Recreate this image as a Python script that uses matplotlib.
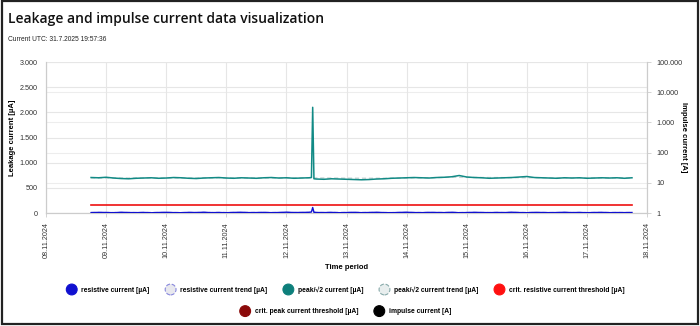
import numpy as np
import pandas as pd
import matplotlib
matplotlib.use("Agg")
import matplotlib.pyplot as plt
import matplotlib.dates as mdates
import matplotlib.patches as mpatches
from matplotlib.legend_handler import HandlerPatch
from matplotlib.ticker import FuncFormatter, FixedLocator

plt.rcParams['font.family'] = ['Liberation Sans', 'DejaVu Sans']

# Measurement series, hours counted from 08.11.2024 18:00
hours = [0, 3, 6, 9, 12, 15, 18, 21, 24, 27, 30, 33, 36, 39, 42, 45, 48, 51, 54, 57,
         60, 63, 66, 69, 72, 75, 78, 81, 84, 87, 88, 88.5, 89, 90, 93, 96, 99, 102, 105,
         108, 111, 114, 117, 120, 123, 126, 129, 132, 135, 138, 141, 144, 147, 150, 153,
         156, 159, 162, 165, 168, 171, 174, 177, 180, 183, 186, 189, 192, 195, 198, 201,
         204, 207, 210, 213, 216]
peak_current = [705, 700, 710, 695, 685, 680, 690, 695, 700, 690, 695, 705, 700, 690,
                685, 695, 700, 705, 695, 690, 700, 695, 690, 700, 705, 695, 700, 690,
                695, 700, 705, 2100, 680, 675, 670, 680, 675, 670, 665, 660, 665, 675,
                680, 690, 695, 700, 705, 700, 695, 705, 710, 720, 745, 715, 705, 700,
                690, 695, 700, 705, 715, 725, 705, 700, 695, 690, 700, 695, 700, 690,
                695, 700, 695, 700, 690, 700]
resistive_current = [8, 12, 10, 6, 14, 9, 7, 11, 5, 10, 13, 8, 6, 12, 9, 15, 7, 10, 6, 11,
                     14, 8, 9, 12, 7, 10, 16, 9, 11, 14, 20, 110, 15, 10, 8, 12, 6, 9,
                     13, 7, 10, 14, 8, 6, 11, 15, 9, 7, 12, 10, 8, 14, 6, 9, 13, 10,
                     7, 11, 8, 15, 9, 6, 12, 10, 7, 9, 14, 8, 11, 6, 10, 12, 7, 9, 8, 10]

trend_hours = [0, 12, 24, 36, 48, 60, 72, 84, 96, 108, 120, 132, 144, 156, 168, 180,
               192, 204, 216]
peak_trend = [698, 695, 697, 696, 698, 697, 696, 698, 695, 690, 692, 698, 710, 705,
              702, 700, 698, 697, 698]
resistive_trend = [9, 9, 10, 9, 10, 10, 9, 10, 11, 10, 9, 10, 10, 9, 10, 10, 9, 10, 9]

threshold_hours = [0, 216]
resistive_threshold = [150, 150]
peak_threshold_hours = []
peak_threshold = []
impulse_hours = []
impulse_current = []

start = pd.Timestamp('2024-11-08 18:00')
def to_time(h):
    return start + pd.to_timedelta(h, unit='h')

t = to_time(hours)
tt = to_time(trend_hours)
tth = to_time(threshold_hours)

fig = plt.figure(figsize=(7, 3.26), dpi=100)
ax = fig.add_axes([0.0657, 0.3466, 0.8586, 0.4632])
ax2 = ax.twinx()

c_blue = '#1010d0'
c_teal = '#118a85'
c_red = '#ee1111'

ax.plot(tt, resistive_trend, color='#a9a9e8', lw=1.0, ls=(0, (3, 2)), zorder=3)
ax.plot(t, resistive_current, color=c_blue, lw=1.0, zorder=4)
ax.plot(tt, peak_trend, color='#c8d4d4', lw=1.0, ls=(0, (3, 2)), zorder=3)
ax.plot(t, peak_current, color=c_teal, lw=1.1, zorder=4)
ax.plot(tth, resistive_threshold, color=c_red, lw=1.2, zorder=4)
ax.plot(to_time(peak_threshold_hours), peak_threshold, color='#8b0000', lw=1.2)
ax2.plot(to_time(impulse_hours), impulse_current, color='black', lw=1.0)

ax.set_xlim(pd.Timestamp('2024-11-08'), pd.Timestamp('2024-11-18'))
ax.set_ylim(0, 3000)
ax.yaxis.set_major_locator(FixedLocator([0, 500, 1000, 1500, 2000, 2500, 3000]))
thousands = FuncFormatter(lambda v, p: f"{int(round(v)):,}".replace(',', '.'))
ax.yaxis.set_major_formatter(thousands)

ax2.set_yscale('log')
ax2.set_ylim(1, 100000)
ax2.yaxis.set_major_locator(FixedLocator([1, 10, 100, 1000, 10000, 100000]))
ax2.yaxis.set_minor_locator(FixedLocator([]))
ax2.yaxis.set_major_formatter(thousands)

ax.xaxis.set_major_locator(mdates.DayLocator())
ax.xaxis.set_major_formatter(mdates.DateFormatter('%d.%m.%Y'))
for lbl in ax.get_xticklabels():
    lbl.set_rotation(90)

ax.grid(True, color='#e6e6e6', lw=0.8)
ax2.grid(True, axis='y', color='#ededed', lw=0.8)
ax.set_axisbelow(True)
ax2.set_zorder(ax.get_zorder() - 1)
ax.patch.set_visible(False)

for a in (ax, ax2):
    a.tick_params(labelsize=5.2, colors='#333333', length=3, width=0.6, color='#cccccc')
    a.spines['top'].set_visible(False)
    for s in ('left', 'right', 'bottom'):
        a.spines[s].set_color('#cccccc')
        a.spines[s].set_linewidth(0.8)
ax.tick_params(axis='y', length=0, pad=6)

ax.set_ylabel('Leakage current [µA]', fontsize=5.5, fontweight='bold')
ax.yaxis.set_label_coords(-0.05, 0.5)
ax2.set_ylabel('Impulse current [A]', fontsize=5.5, fontweight='bold', rotation=270,
               va='center')
ax2.yaxis.set_label_coords(1.06, 0.5)
ax.set_xlabel('Time period', fontsize=5.5, fontweight='bold', labelpad=4)

fig.text(0.012, 0.93, 'Leakage and impulse current data visualization',
         fontsize=10, fontweight='semibold', family='Open Sans', color='#111111')
fig.text(0.012, 0.875, 'Current UTC: 31.7.2025 19:57:36', fontsize=4.8, color='#222222')

# outer frame of the panel
fig.add_artist(mpatches.Rectangle((0.003, 0.006), 0.994, 0.99, transform=fig.transFigure,
                                  fill=False, ec='#222222', lw=1.6))


class HandlerCircle(HandlerPatch):
    def create_artists(self, legend, orig_handle, xdescent, ydescent, width, height,
                       fontsize, trans):
        c = mpatches.Circle((width / 2 - xdescent, height / 2 - ydescent), radius=3.9)
        self.update_prop(c, orig_handle, legend)
        c.set_transform(trans)
        return [c]


def dot(fc, ec=None, ls='-'):
    return mpatches.Circle((0, 0), 1, fc=fc, ec=ec if ec else fc, ls=ls, lw=0.8)


row1 = [dot(c_blue), dot('#e8e8ee', '#8888dd', '--'), dot('#0d7f7b'),
        dot('#e8eeee', '#88aaaa', '--'), dot('#ff1010')]
row1_labels = ['resistive current [µA]', 'resistive current trend [µA]',
               'peak/√2 current [µA]', 'peak/√2 current trend [µA]',
               'crit. resistive current threshold [µA]']
row2 = [dot('#8b0a0a'), dot('black')]
row2_labels = ['crit. peak current threshold [µA]', 'impulse current [A]']

leg_kw = dict(frameon=False, handler_map={mpatches.Circle: HandlerCircle()},
              prop={'size': 4.9, 'weight': 'bold'}, handlelength=1.4, handletextpad=0.7,
              columnspacing=2.4)
fig.legend(row1, row1_labels, loc='center', bbox_to_anchor=(0.494, 0.11),
           ncol=5, **leg_kw)
fig.legend(row2, row2_labels, loc='center', bbox_to_anchor=(0.494, 0.043), ncol=2,
           **leg_kw)

fig.savefig('out.png', dpi=100)
